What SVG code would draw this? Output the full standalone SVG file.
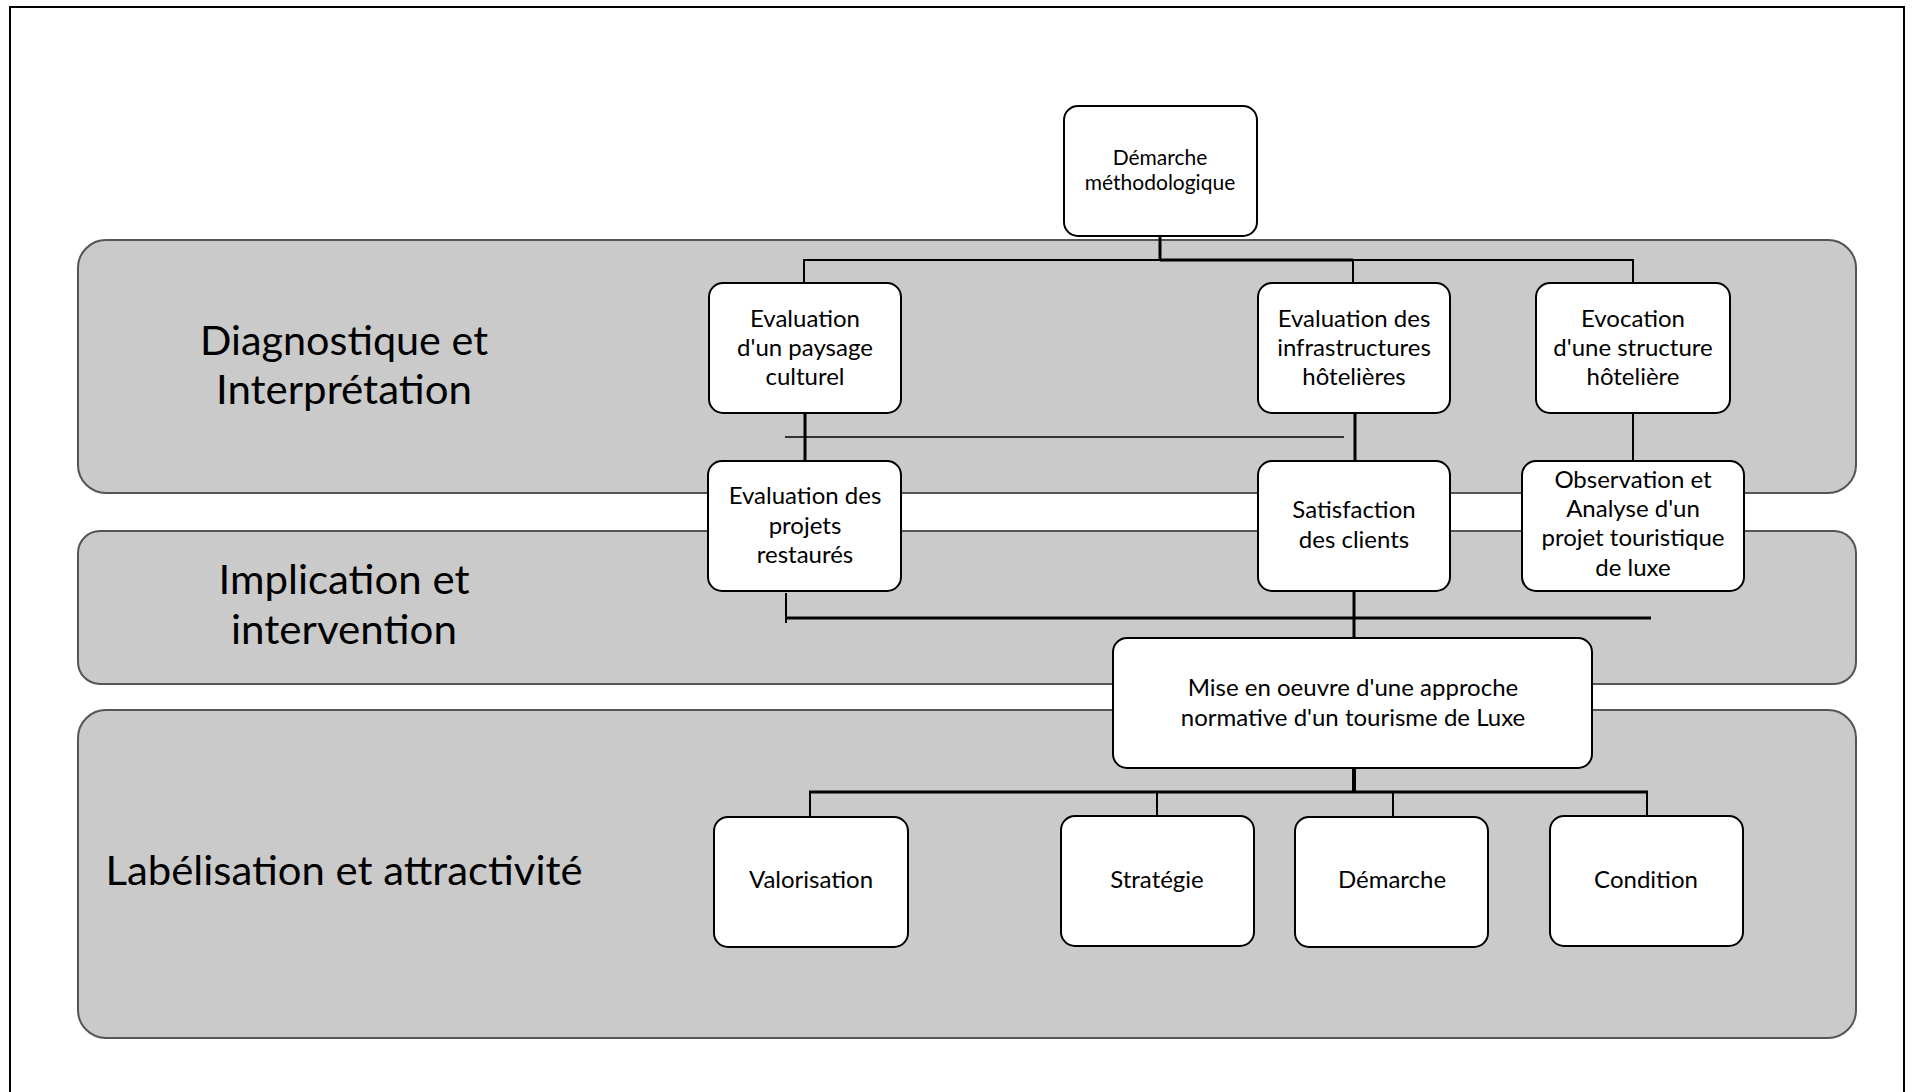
<svg xmlns="http://www.w3.org/2000/svg" width="1914" height="1092" viewBox="0 0 1914 1092">
<style>
.band{fill:#cacaca;stroke:#555;stroke-width:2}
.node{fill:#fff;stroke:#000;stroke-width:2}
.t{font-family:Lato,"Open Sans","Liberation Sans",sans-serif;font-size:24px;fill:#000;text-anchor:middle}
.s{font-size:21px}
.big{font-size:40px}
.c{stroke:#000;fill:none;stroke-linecap:butt}
</style>
<rect x="0" y="0" width="1914" height="1092" fill="#fff"/>
<rect x="10" y="7" width="1894" height="1100" fill="none" stroke="#000" stroke-width="2"/>
<g id="bands">
<rect class="band" x="78" y="240" width="1778" height="253" rx="28" ry="28"/>
<rect class="band" x="78" y="531" width="1778" height="153" rx="22" ry="22"/>
<rect class="band" x="78" y="710" width="1778" height="328" rx="28" ry="28"/>
<text class="t big" x="344" y="355" textLength="288" lengthAdjust="spacingAndGlyphs">Diagnostique et</text>
<text class="t big" x="344" y="404" textLength="256" lengthAdjust="spacingAndGlyphs">Interprétation</text>
<text class="t big" x="344" y="594" textLength="251" lengthAdjust="spacingAndGlyphs">Implication et</text>
<text class="t big" x="344" y="644" textLength="226" lengthAdjust="spacingAndGlyphs">intervention</text>
<text class="t big" x="344" y="885" textLength="477" lengthAdjust="spacingAndGlyphs">Labélisation et attractivité</text>
</g>
<g id="connectors">
<line class="c" x1="1160" y1="236" x2="1160" y2="261" stroke-width="3"/>
<line class="c" x1="803" y1="260" x2="1160" y2="260" stroke-width="2"/>
<line class="c" x1="1160" y1="260" x2="1353" y2="260" stroke-width="3"/>
<line class="c" x1="1353" y1="260" x2="1634" y2="260" stroke-width="2"/>
<line class="c" x1="804" y1="260" x2="804" y2="283" stroke-width="2"/>
<line class="c" x1="1353" y1="260" x2="1353" y2="283" stroke-width="2"/>
<line class="c" x1="1633" y1="260" x2="1633" y2="283" stroke-width="2"/>
<line class="c" x1="805" y1="413" x2="805" y2="461" stroke-width="3"/>
<line class="c" x1="785" y1="437" x2="1344" y2="437" stroke="#333" stroke-width="1.5"/>
<line class="c" x1="1355" y1="413" x2="1355" y2="461" stroke-width="3"/>
<line class="c" x1="1633" y1="413" x2="1633" y2="461" stroke-width="2"/>
<line class="c" x1="786" y1="593" x2="786" y2="623" stroke-width="2"/>
<line class="c" x1="786" y1="618" x2="1651" y2="618" stroke-width="3"/>
<line class="c" x1="1354" y1="591" x2="1354" y2="638" stroke-width="3"/>
<line class="c" x1="1354" y1="768" x2="1354" y2="793" stroke-width="4"/>
<line class="c" x1="809" y1="792" x2="1648" y2="792" stroke-width="3"/>
<line class="c" x1="810" y1="792" x2="810" y2="817" stroke-width="2"/>
<line class="c" x1="1157" y1="792" x2="1157" y2="817" stroke-width="2"/>
<line class="c" x1="1393" y1="792" x2="1393" y2="817" stroke-width="2"/>
<line class="c" x1="1647" y1="792" x2="1647" y2="817" stroke-width="2"/>
</g>
<g id="n-demarche-methodo">
<rect class="node" x="1064" y="106" width="193" height="130" rx="14"/>
<text class="t s" x="1160" y="165">Démarche</text>
<text class="t s" x="1160" y="190">méthodologique</text>
</g>
<g id="n-paysage">
<rect class="node" x="709" y="283" width="192" height="130" rx="14"/>
<text class="t" x="805" y="327">Evaluation</text>
<text class="t" x="805" y="356">d'un paysage</text>
<text class="t" x="805" y="385">culturel</text>
</g>
<g id="n-infra">
<rect class="node" x="1258" y="283" width="192" height="130" rx="14"/>
<text class="t" x="1354" y="327">Evaluation des</text>
<text class="t" x="1354" y="356">infrastructures</text>
<text class="t" x="1354" y="385">hôtelières</text>
</g>
<g id="n-evocation">
<rect class="node" x="1536" y="283" width="194" height="130" rx="14"/>
<text class="t" x="1633" y="327">Evocation</text>
<text class="t" x="1633" y="356">d'une structure</text>
<text class="t" x="1633" y="385">hôtelière</text>
</g>
<g id="n-projets">
<rect class="node" x="708" y="461" width="193" height="130" rx="14"/>
<text class="t" x="805" y="504">Evaluation des</text>
<text class="t" x="805" y="534">projets</text>
<text class="t" x="805" y="563">restaurés</text>
</g>
<g id="n-satisfaction">
<rect class="node" x="1258" y="461" width="192" height="130" rx="14"/>
<text class="t" x="1354" y="518">Satisfaction</text>
<text class="t" x="1354" y="548">des clients</text>
</g>
<g id="n-observation">
<rect class="node" x="1522" y="461" width="222" height="130" rx="14"/>
<text class="t" x="1633" y="488">Observation et</text>
<text class="t" x="1633" y="517">Analyse d'un</text>
<text class="t" x="1633" y="546">projet touristique</text>
<text class="t" x="1633" y="576">de luxe</text>
</g>
<g id="n-mise">
<rect class="node" x="1113" y="638" width="479" height="130" rx="14"/>
<text class="t" x="1353" y="696">Mise en oeuvre d'une approche</text>
<text class="t" x="1353" y="726">normative d'un tourisme de Luxe</text>
</g>
<g id="n-valorisation">
<rect class="node" x="714" y="817" width="194" height="130" rx="14"/>
<text class="t" x="811" y="888">Valorisation</text>
</g>
<g id="n-strategie">
<rect class="node" x="1061" y="816" width="193" height="130" rx="14"/>
<text class="t" x="1157" y="888">Stratégie</text>
</g>
<g id="n-demarche">
<rect class="node" x="1295" y="817" width="193" height="130" rx="14"/>
<text class="t" x="1392" y="888">Démarche</text>
</g>
<g id="n-condition">
<rect class="node" x="1550" y="816" width="193" height="130" rx="14"/>
<text class="t" x="1646" y="888">Condition</text>
</g>
</svg>
